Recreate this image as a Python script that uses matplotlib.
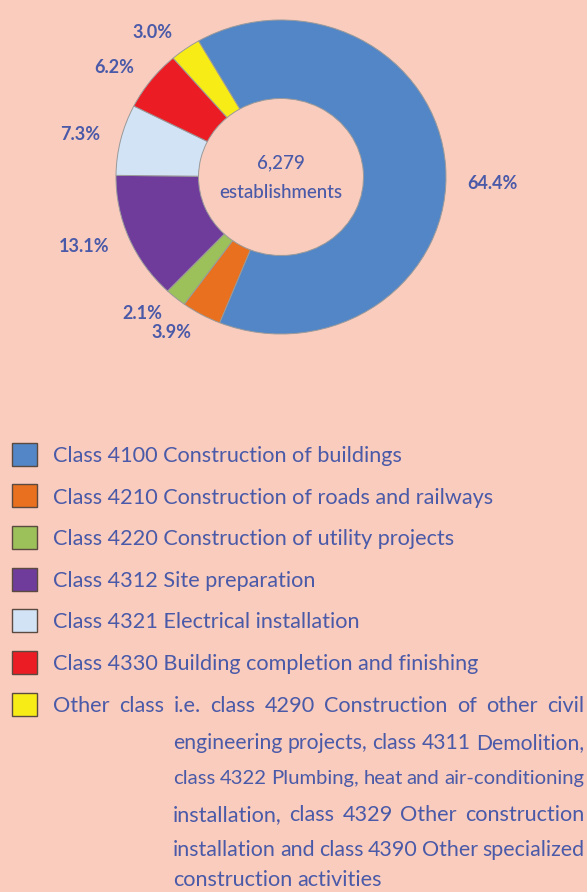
import matplotlib
matplotlib.use('Agg')
import matplotlib.pyplot as plt
from matplotlib import font_manager
from matplotlib.patches import Rectangle

# data
classes = ['Class 4100 Construction of buildings',
           'Class 4210 Construction of roads and railways',
           'Class 4220 Construction of utility projects',
           'Class 4312 Site preparation',
           'Class 4321 Electrical installation',
           'Class 4330 Building completion and finishing',
           'Other class']
shares = [64.4, 3.9, 2.1, 13.1, 7.3, 6.2, 3.0]
colors = ['#5386C6', '#E8701E', '#9CC05A', '#703C9C', '#D3E3F6', '#EC1C24', '#F8EC16']
total_text = '6,279'
other_lines = ['Other class i.e. class 4290 Construction of other civil',
               'engineering projects, class 4311 Demolition,',
               'class 4322 Plumbing, heat and air-conditioning',
               'installation, class 4329 Other construction',
               'installation and class 4390 Other specialized',
               'construction activities']

bg = '#F9CCBE'
txt = '#4A5AA8'
W, H = 587, 892

names = {f.name for f in font_manager.fontManager.ttflist}
font = 'Liberation Sans Narrow' if 'Liberation Sans Narrow' in names else 'Lato'
plt.rcParams['font.family'] = [font, 'DejaVu Sans']

fig = plt.figure(figsize=(W / 100, H / 100), dpi=100, facecolor=bg)

def fx(x):
    return x / W

def fy(y):
    return 1 - y / H

# donut: slightly flattened, 1 data unit = Rx px across, Ry px down
Rx, Ry = 165.0, 157.0
cx, cy = 281.0, 177.0
top_h = 390
ax = fig.add_axes([0, fy(top_h), 1, top_h / H])
ax.set_facecolor(bg)
wedges, texts = ax.pie(shares, colors=colors, startangle=120, counterclock=False,
                       labels=[f'{v:.1f}%' for v in shares], labeldistance=1.13,
                       wedgeprops=dict(width=0.5, edgecolor='#9a9a9a', linewidth=0.7),
                       textprops=dict(color=txt, fontsize=13, fontweight='bold'))
ax.set_xlim(-cx / Rx, (W - cx) / Rx)
ax.set_ylim(-(top_h - cy) / Ry, cy / Ry)
ax.set_aspect(Ry / Rx)
ax.axis('off')
# nudge the big label down a little, as in the source
texts[0].set_y(texts[0].get_position()[1] - 0.12)

ax.text(0, 0.09, total_text, ha='center', va='center', color=txt, fontsize=13.5, fontweight='medium')
ax.text(0, -0.1, 'establishments', ha='center', va='center', color=txt, fontsize=13.5, fontweight='medium')

# legend
rows_y = [454, 496, 537, 579, 620, 662, 704]
leg_size = 15.6
for i, (name, c) in enumerate(zip(classes, colors)):
    y = rows_y[i]
    fig.patches.append(Rectangle((fx(12), fy(y + 11.5)), 25 / W, 23 / H, transform=fig.transFigure,
                                 facecolor=c, edgecolor='#5a4a40', linewidth=1.0))
    if i < len(classes) - 1:
        fig.text(fx(53), fy(y), name, color=txt, fontsize=leg_size, va='center_baseline')

# justified paragraph for the "Other class" entry
renderer = fig.canvas.get_renderer()

def draw_line(line, x0, x1, y, justify):
    words = line.split(' ')
    size = leg_size
    min_gap = 4.0
    while True:
        objs = [fig.text(0, fy(y), w, color=txt, fontsize=size, va='center_baseline') for w in words]
        widths = [o.get_window_extent(renderer).width for o in objs]
        n = max(len(words) - 1, 1)
        gap = (x1 - x0 - sum(widths)) / n
        if gap >= min_gap or size < 10:
            break
        for o in objs:
            o.remove()
        size -= 0.2
    if not justify:
        gap = size * 0.35
    x = x0
    for o, w in zip(objs, widths):
        o.set_x(fx(x))
        x += w + gap

para_y = [704, 741, 777, 813, 848, 878]
for k, line in enumerate(other_lines):
    x0 = 53 if k == 0 else 173
    draw_line(line, x0, 584, para_y[k], justify=(k < len(other_lines) - 1))

fig.savefig('out.png', dpi=100, facecolor=bg)
